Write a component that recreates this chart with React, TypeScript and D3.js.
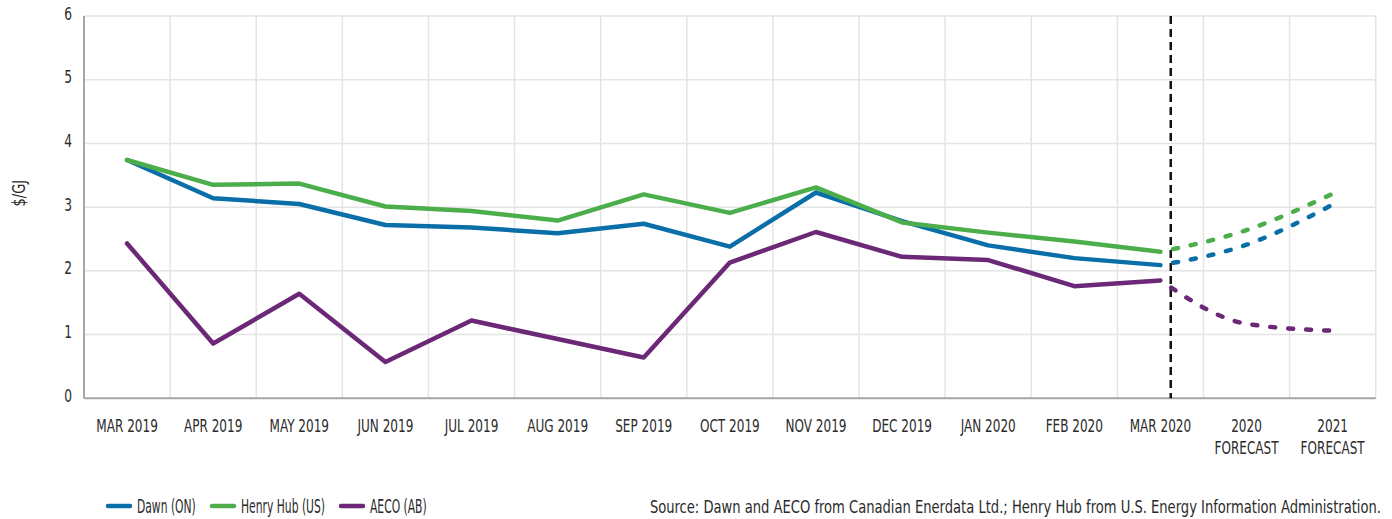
import React from 'react';
import * as d3 from 'd3';

// categories along the x axis (second line used for the forecast labels)
const categories = [
  'MAR 2019', 'APR 2019', 'MAY 2019', 'JUN 2019', 'JUL 2019', 'AUG 2019', 'SEP 2019',
  'OCT 2019', 'NOV 2019', 'DEC 2019', 'JAN 2020', 'FEB 2020', 'MAR 2020',
  '2020 FORECAST', '2021 FORECAST',
];
const labelLines = [
  ['MAR 2019'], ['APR 2019'], ['MAY 2019'], ['JUN 2019'], ['JUL 2019'], ['AUG 2019'], ['SEP 2019'],
  ['OCT 2019'], ['NOV 2019'], ['DEC 2019'], ['JAN 2020'], ['FEB 2020'], ['MAR 2020'],
  ['2020', 'FORECAST'], ['2021', 'FORECAST'],
];
const yTicks = [0, 1, 2, 3, 4, 5, 6];

// monthly prices, $/GJ
const dawn = [3.74, 3.14, 3.05, 2.72, 2.68, 2.59, 2.74, 2.38, 3.23, 2.78, 2.40, 2.20, 2.09];
const henryHub = [3.74, 3.35, 3.37, 3.01, 2.94, 2.79, 3.20, 2.91, 3.31, 2.76, 2.60, 2.46, 2.30];
const aeco = [2.43, 0.86, 1.64, 0.57, 1.22, 0.93, 0.64, 2.13, 2.61, 2.22, 2.17, 1.76, 1.85];

// forecasts (2020, 2021)
const dawnForecast = [2.41, 3.04];
const henryHubForecast = [2.64, 3.21];
const aecoForecast = [1.17, 1.06];

const series = [
  { name: 'Dawn (ON)', color: '#0a6fa8', values: dawn, forecast: dawnForecast },
  { name: 'Henry Hub (US)', color: '#4cae4a', values: henryHub, forecast: henryHubForecast },
  { name: 'AECO (AB)', color: '#6b2876', values: aeco, forecast: aecoForecast },
];

const sourceText =
  'Source: Dawn and AECO from Canadian Enerdata Ltd.; Henry Hub from U.S. Energy Information Administration.';

// no narrow font installed, so condensed DejaVu squeezed horizontally
const FONT = '"DejaVu Sans Condensed", "DejaVu Sans", sans-serif';

const width = 1392;
const height = 519;
const margin = { top: 16, right: 16.3, bottom: 120.7, left: 84 };

const Narrow = ({ x, y, sx, anchor = 'start', size, children, rotate = 0 }: any) => (
  <g transform={`translate(${x},${y}) rotate(${rotate}) scale(${sx},1)`}>
    <text textAnchor={anchor} fontSize={size} fill="#2b2b2b">
      {children}
    </text>
  </g>
);

export default function App() {
  const x = d3
    .scaleBand<string>()
    .domain(categories)
    .range([margin.left, width - margin.right])
    .padding(0);
  const bw = x.bandwidth();
  const cx = (c: string) => (x(c) as number) + bw / 2;

  const y = d3
    .scaleLinear()
    .domain([0, 6])
    .range([height - margin.bottom, margin.top]);

  const nHist = dawn.length;
  const lastHist = categories[nHist - 1];

  const solid = d3
    .line<number>()
    .x((_, i) => cx(categories[i]))
    .y((d) => y(d));

  const dashed = d3
    .line<number>()
    .x((_, i) => cx(categories[nHist - 1 + i]))
    .y((d) => y(d))
    .curve(d3.curveMonotoneX);

  const edges = categories.map((c) => x(c) as number).concat([width - margin.right]);
  const forecastX = (x(lastHist) as number) + bw * 0.62;

  const legendX = [108, 212, 341];

  return (
    <svg
      width={width}
      height={height}
      style={{ position: 'absolute', left: 0, top: 0, background: '#fff' }}
      fontFamily={FONT}
    >
      {/* grid */}
      <g stroke="#e4e4e4" strokeWidth={1.5}>
        {yTicks.map((t) => (
          <line key={'h' + t} x1={margin.left} x2={width - margin.right} y1={y(t)} y2={y(t)} />
        ))}
        {edges.map((e, i) => (
          <line key={'v' + i} x1={e} x2={e} y1={y(6)} y2={y(0)} />
        ))}
      </g>

      {/* axes */}
      <line x1={margin.left} x2={margin.left} y1={y(6)} y2={y(0)} stroke="#a6a6ad" strokeWidth={2} />
      <line x1={margin.left} x2={width - margin.right} y1={y(0)} y2={y(0)} stroke="#a6a6ad" strokeWidth={2} />

      {yTicks.map((t) => (
        <Narrow key={'yt' + t} x={72} y={y(t) + 3.5} sx={0.8} anchor="end" size={17}>
          {t}
        </Narrow>
      ))}
      <Narrow x={25} y={y(3.22)} sx={0.85} anchor="middle" size={17} rotate={-90}>
        $/GJ
      </Narrow>

      {categories.map((c, i) => (
        <g key={c}>
          {labelLines[i].map((l, j) => (
            <Narrow key={j} x={cx(c)} y={432 + j * 22} sx={0.725} anchor="middle" size={18.5}>
              {l}
            </Narrow>
          ))}
        </g>
      ))}

      {/* forecast divider */}
      <line
        x1={forecastX}
        x2={forecastX}
        y1={y(6)}
        y2={y(0)}
        stroke="#111"
        strokeWidth={2.5}
        strokeDasharray="8 5"
      />

      {/* lines */}
      {series.map((s) => (
        <g key={s.name} fill="none" stroke={s.color} strokeWidth={4.5}>
          <path d={solid(s.values) || ''} strokeLinejoin="round" strokeLinecap="round" />
          <path
            d={dashed([s.values[nHist - 1], ...s.forecast]) || ''}
            strokeLinecap="round"
            strokeDasharray="5 13"
            strokeDashoffset={5}
          />
        </g>
      ))}

      {/* legend */}
      {series.map((s, i) => (
        <g key={'lg' + s.name}>
          <line
            x1={legendX[i]}
            x2={legendX[i] + 22}
            y1={506}
            y2={506}
            stroke={s.color}
            strokeWidth={4.5}
            strokeLinecap="round"
          />
          <Narrow x={legendX[i] + 29} y={513} sx={0.63} size={19}>
            {s.name}
          </Narrow>
        </g>
      ))}

      <Narrow x={1381} y={513} sx={0.81} anchor="end" size={18}>
        {sourceText}
      </Narrow>
    </svg>
  );
}
